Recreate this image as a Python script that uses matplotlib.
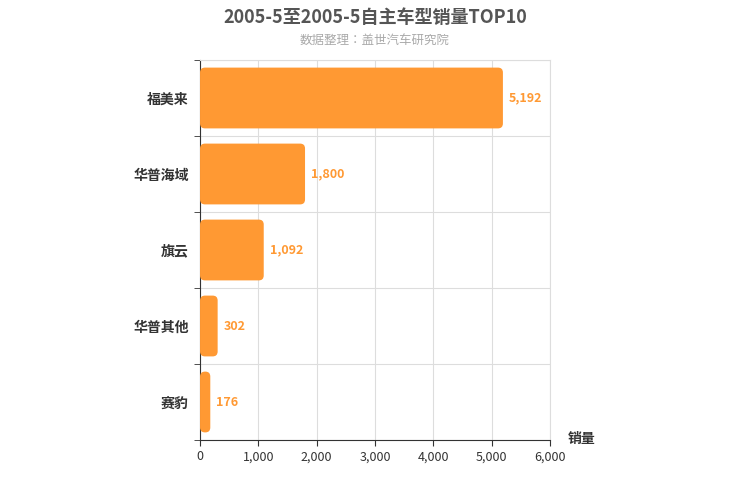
import matplotlib.pyplot as plt
from matplotlib.patches import FancyBboxPatch

plt.rcParams['font.family'] = ["Noto Sans CJK SC", "Noto Sans CJK JP", "DejaVu Sans"]
plt.rcParams['axes.unicode_minus'] = False

models = ["福美来", "华普海域", "旗云", "华普其他", "赛豹"]
sales = [5192, 1800, 1092, 302, 176]
xticks = [0, 1000, 2000, 3000, 4000, 5000, 6000]

bar_color = "#FF9933"
fig = plt.figure(figsize=(7.5, 5), dpi=100)
ax = fig.add_axes([0.2667, 0.12, 0.4667, 0.76])
ax.set_xlim(0, 6000)
ax.set_ylim(-0.5, len(models) - 0.5)
ax.invert_yaxis()

aspect = (5 / 380) / (6000 / 350)
for i, v in enumerate(sales):
    p = FancyBboxPatch((0, i - 0.4), v, 0.8,
                       boxstyle="round,pad=0,rounding_size=85",
                       mutation_aspect=aspect, fc=bar_color, ec="none", zorder=3)
    ax.add_patch(p)
    ax.text(v + 100, i, f"{v:,}", va="center", ha="left",
            color=bar_color, fontsize=9, fontweight="bold", zorder=4)

ax.set_xticks(xticks)
ax.set_xticklabels([f"{t:,}" for t in xticks], fontsize=9, color="#333333")
ax.set_yticks(range(len(models)))
ax.set_yticklabels(models, fontsize=10, fontweight="bold", color="#333333")
ax.set_yticks([i - 0.5 for i in range(len(models) + 1)], minor=True)
ax.tick_params(axis="y", which="major", length=0, pad=8)
ax.tick_params(axis="y", which="minor", length=4, color="#333333")
ax.tick_params(axis="x", length=4, color="#333333")
ax.grid(axis="x", color="#dddddd", zorder=0)
ax.grid(axis="y", which="minor", color="#dddddd", zorder=0)
for s in ["top", "right"]:
    ax.spines[s].set_color("#dddddd")
for s in ["left", "bottom"]:
    ax.spines[s].set_color("#333333")

fig.text(0.5, 0.965, "2005-5至2005-5自主车型销量TOP10", ha="center", va="center",
         fontsize=13, fontweight="bold", color="#555555")
fig.text(0.5, 0.92, "数据整理：盖世汽车研究院", ha="center", va="center",
         fontsize=9, color="#aaaaaa")
fig.text(0.775, 0.122, "销量", ha="center", va="center", fontsize=10,
         fontweight="bold", color="#333333")

fig.savefig("out.png")
